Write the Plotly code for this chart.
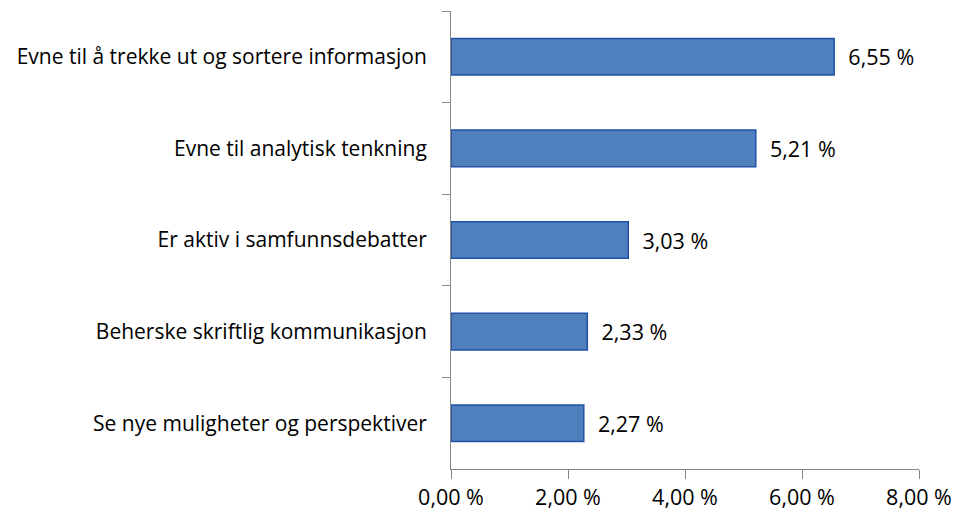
"""Horizontal bar chart: ferdigheter (prosent)."""

import plotly.graph_objects as go

CATEGORIES = [
    "Evne til å trekke ut og sortere informasjon",
    "Evne til analytisk tenkning",
    "Er aktiv i samfunnsdebatter",
    "Beherske skriftlig kommunikasjon",
    "Se nye muligheter og perspektiver",
]
VALUES = [6.55, 5.21, 3.03, 2.33, 2.27]
X_TICKS = [0, 2, 4, 6, 8]
X_TICK_TEXT = ["0,00 %", "2,00 %", "4,00 %", "6,00 %", "8,00 %"]

FONT = "'Open Sans', sans-serif"
AXIS_GRAY = "#868686"


def main() -> None:
    fig = go.Figure(
        go.Bar(
            x=VALUES,
            y=CATEGORIES,
            orientation="h",
            marker=dict(color="#4f7fbc", line=dict(color="#2152a6", width=1.5)),
            texttemplate="  %{x:.2f} %",
            textposition="outside",
            textfont=dict(size=21.5, color="black", family=FONT),
            cliponaxis=False,
        )
    )
    # page body has an 8px default margin, so margins are offset by 8
    fig.update_layout(
        width=962,
        height=514,
        margin=dict(l=443, r=51, t=3, b=53),
        paper_bgcolor="white",
        plot_bgcolor="white",
        separators=", ",
        bargap=0.6,
        showlegend=False,
        font=dict(family=FONT, size=21, color="black"),
    )
    fig.update_xaxes(
        range=[0, 8],
        tickvals=X_TICKS,
        ticktext=X_TICK_TEXT,
        showgrid=False,
        zeroline=False,
        showline=True,
        linecolor=AXIS_GRAY,
        linewidth=1,
        ticks="outside",
        ticklen=9,
        tickcolor=AXIS_GRAY,
        tickfont=dict(size=21.5, family=FONT),
    )
    fig.update_yaxes(
        autorange="reversed",
        showgrid=False,
        showline=True,
        linecolor=AXIS_GRAY,
        linewidth=1,
        ticks="outside",
        tickson="boundaries",
        ticklen=8,
        tickcolor=AXIS_GRAY,
        ticklabelstandoff=19,
        tickfont=dict(size=21, family=FONT),
    )
    fig.write_html("out.html")


if __name__ == "__main__":
    main()
